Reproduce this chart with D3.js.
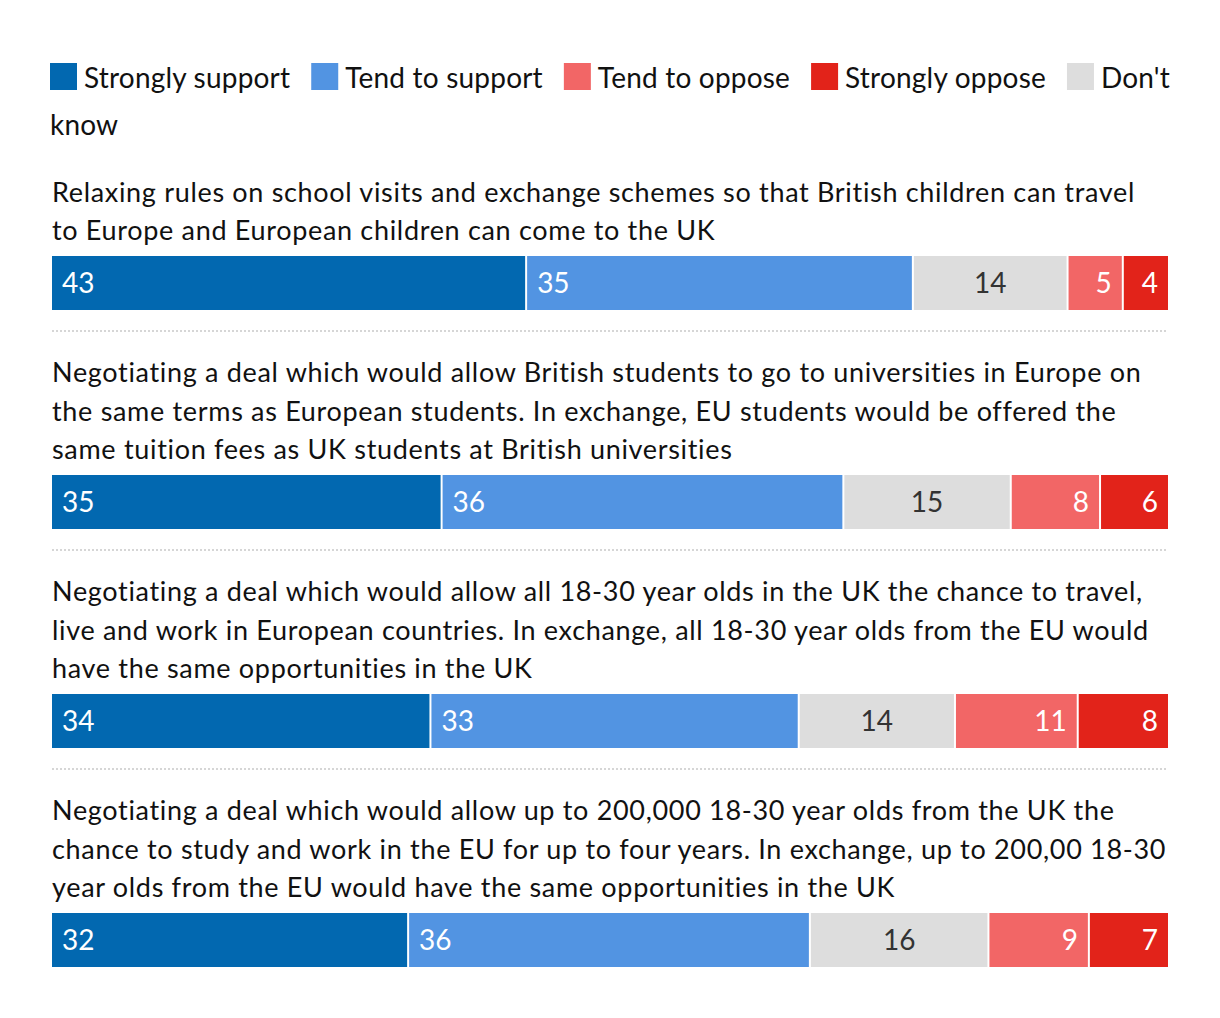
<!DOCTYPE html>
<html>
<head>
<meta charset="utf-8">
<script src="https://cdn.jsdelivr.net/npm/d3@7"></script>
<style>
  html, body { margin: 0; padding: 0; background: #fff; }
  svg { display: block; }
  text { font-family: Lato, "Noto Sans", sans-serif; }
</style>
</head>
<body>
<svg id="chart" width="1220" height="1018"></svg>
<script>
// ---- data ----
const seriesNames = ["Strongly support", "Tend to support", "Don't know", "Tend to oppose", "Strongly oppose"];
const legendOrder = ["Strongly support", "Tend to support", "Tend to oppose", "Strongly oppose", "Don't know"];
const seriesColors = ["#0268B0", "#5294E2", "#DDDDDD", "#F26666", "#E2231A"];
const questions = [
  ["Relaxing rules on school visits and exchange schemes so that British children can travel",
   "to Europe and European children can come to the UK"],
  ["Negotiating a deal which would allow British students to go to universities in Europe on",
   "the same terms as European students. In exchange, EU students would be offered the",
   "same tuition fees as UK students at British universities"],
  ["Negotiating a deal which would allow all 18-30 year olds in the UK the chance to travel,",
   "live and work in European countries. In exchange, all 18-30 year olds from the EU would",
   "have the same opportunities in the UK"],
  ["Negotiating a deal which would allow up to 200,000 18-30 year olds from the UK the",
   "chance to study and work in the EU for up to four years. In exchange, up to 200,00 18-30",
   "year olds from the EU would have the same opportunities in the UK"]
];
const stronglySupport = [43, 35, 34, 32];
const tendSupport     = [35, 36, 33, 36];
const dontKnow        = [14, 15, 14, 16];
const tendOppose      = [5, 8, 11, 9];
const stronglyOppose  = [4, 6, 8, 7];

const rows = questions.map((q, i) => ({
  lines: q,
  values: [stronglySupport[i], tendSupport[i], dontKnow[i], tendOppose[i], stronglyOppose[i]]
}));

// ---- layout ----
const svg = d3.select("#chart");
const left = 52, right = 1168;
const fontSize = 27;
const barH = 54;
const color = d3.scaleOrdinal().domain(seriesNames).range(seriesColors);

// legend (flow layout with word wrap)
const legend = svg.append("g");
const legendLS = 0.2;
const measure = svg.append("text").attr("font-size", 28).attr("letter-spacing", legendLS).attr("visibility", "hidden");
function tw(s) { measure.text(s); return measure.node().getComputedTextLength(); }
let lx = 50, ly = 88;
const legendLineH = 47, sq = 27;
function legendText(x, y, s) {
  legend.append("text").attr("x", x).attr("y", y).attr("font-size", 28)
    .attr("letter-spacing", legendLS).attr("fill", "#111").text(s);
}
legendOrder.forEach(name => {
  legend.append("rect").attr("x", lx).attr("y", ly - 25).attr("width", sq).attr("height", sq)
    .attr("fill", color(name));
  lx += sq + 7;
  const words = name.split(" ");
  let cur = "";
  let startX = lx;
  words.forEach(w => {
    const trial = cur ? cur + " " + w : w;
    if (startX + tw(trial) > right && cur) {
      legendText(startX, ly, cur);
      ly += legendLineH; startX = 50; cur = w;
    } else cur = trial;
  });
  legendText(startX, ly, cur);
  lx = startX + tw(cur) + 21;
});
measure.remove();

// rows
let y = 201.5;
const lineH = 38.5;
rows.forEach((row, i) => {
  const g = svg.append("g");
  row.lines.forEach((ln, j) => {
    g.append("text").attr("x", left).attr("y", y + j * lineH).attr("font-size", fontSize)
      .attr("letter-spacing", 0.68).attr("fill", "#111").text(ln);
  });
  const barTop = Math.round(y + (row.lines.length - 1) * lineH + 16);
  const total = d3.sum(row.values);
  const x = d3.scaleLinear().domain([0, total]).range([left, right]);
  const stackData = [Object.fromEntries(seriesNames.map((n, k) => [n, row.values[k]]))];
  const stack = d3.stack().keys(seriesNames)(stackData);
  stack.forEach((s, k) => {
    const d = s[0];
    const x0 = x(d[0]), x1 = x(d[1]);
    const last = k === stack.length - 1;
    g.append("rect").attr("x", x0).attr("y", barTop)
      .attr("width", Math.max(0, x1 - x0 - (last ? 0 : 2))).attr("height", barH)
      .attr("fill", color(s.key));
    let tx, anchor;
    if (k < 2) { tx = x0 + 10; anchor = "start"; }
    else if (k === 2) { tx = (x0 + x1 - 2) / 2; anchor = "middle"; }
    else { tx = x1 - (last ? 0 : 2) - 10; anchor = "end"; }
    g.append("text").attr("x", tx).attr("y", barTop + barH / 2 + 10)
      .attr("text-anchor", anchor).attr("font-size", 28)
      .attr("fill", k === 2 ? "#333" : "#fff").text(d.data[s.key]);
  });
  const sepY = barTop + barH + 21;
  if (i < rows.length - 1) {
    g.append("line").attr("x1", left).attr("x2", right).attr("y1", sepY).attr("y2", sepY)
      .attr("stroke", "#d6d6d6").attr("stroke-width", 2).attr("stroke-dasharray", "2,2");
  }
  y = sepY + 51;
});
</script>
</body>
</html>
